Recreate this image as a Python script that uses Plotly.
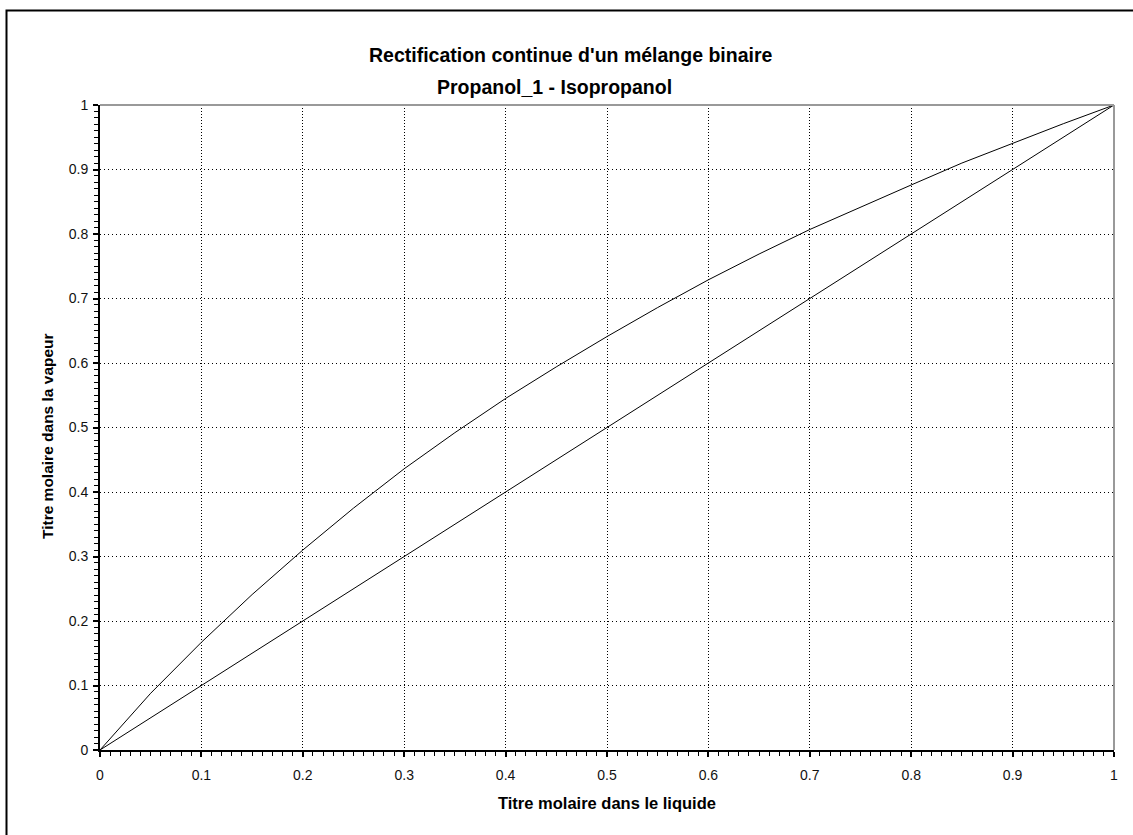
import plotly.graph_objects as go

# Equilibrium curve
x_eq = [0.0, 0.05, 0.1, 0.15, 0.2, 0.25, 0.3, 0.35, 0.4, 0.45, 0.5,
        0.55, 0.6, 0.65, 0.7, 0.75, 0.8, 0.85, 0.9, 0.95, 1.0]
y_eq = [0.0, 0.088, 0.167, 0.241, 0.310, 0.375, 0.436, 0.492, 0.545, 0.594, 0.641,
        0.686, 0.729, 0.769, 0.807, 0.842, 0.876, 0.910, 0.941, 0.971, 1.0]
# Diagonal
x_diag = [0.0, 1.0]
y_diag = [0.0, 1.0]

tick_vals = [0, 0.1, 0.2, 0.3, 0.4, 0.5, 0.6, 0.7, 0.8, 0.9, 1]
tick_text = ["0", "0.1", "0.2", "0.3", "0.4", "0.5", "0.6", "0.7", "0.8", "0.9", "1"]

title1 = "Rectification continue d'un mélange binaire"
title2 = "Propanol_1 - Isopropanol"
xlabel = "Titre molaire dans le liquide"
ylabel = "Titre molaire dans la vapeur"

FONT = "Liberation Sans, Arial, sans-serif"

fig = go.Figure()
fig.add_trace(go.Scatter(x=x_diag, y=y_diag, mode="lines",
                         line=dict(color="black", width=1), showlegend=False, hoverinfo="skip"))
fig.add_trace(go.Scatter(x=x_eq, y=y_eq, mode="lines",
                         line=dict(color="black", width=1), showlegend=False, hoverinfo="skip"))

axis_common = dict(
    range=[0, 1], tickvals=tick_vals, ticktext=tick_text,
    showgrid=True, gridcolor="black", gridwidth=1,
    zeroline=False, showline=True, linecolor="black", linewidth=2,
    ticks="outside", ticklen=5, tickwidth=2, tickcolor="black",
    minor=dict(dtick=0.01, ticks="outside", ticklen=4, tickwidth=1, tickcolor="black", showgrid=False),
    tickfont=dict(family=FONT, size=14, color="#111111"),
    fixedrange=True,
)

fig.update_xaxes(**axis_common, griddash="1px,2px", ticklabelstandoff=6)
fig.update_yaxes(**axis_common, griddash="1px,3px", ticklabelstandoff=2)

fig.update_layout(
    width=1133, height=835,
    margin=dict(l=100, r=19, t=105, b=85),
    paper_bgcolor="white", plot_bgcolor="white",
    font=dict(family=FONT, color="black"),
    shapes=[
        # top and right frame lines (gray)
        dict(type="line", xref="paper", yref="paper", x0=0, x1=1, y0=1, y1=1,
             line=dict(color="#999999", width=2)),
        dict(type="line", xref="paper", yref="paper", x0=1, x1=1, y0=0, y1=1,
             line=dict(color="#999999", width=2)),
        # outer border (extends beyond the picture on right and bottom)
        dict(type="rect", xref="paper", yref="paper",
             x0=(6.5 - 100) / 1014, x1=1.1, y0=-0.3, y1=(750 - 10.5) / 645,
             line=dict(color="black", width=2), fillcolor="rgba(0,0,0,0)"),
    ],
    annotations=[
        dict(text="<b>" + title1 + "</b>", xref="paper", yref="paper",
             x=(571 - 100) / 1014, y=(750 - 55) / 645, showarrow=False,
             xanchor="center", yanchor="middle", font=dict(family=FONT, size=19.5, color="black")),
        dict(text="<b>" + title2 + "</b>", xref="paper", yref="paper",
             x=(554 - 100) / 1014, y=(750 - 87) / 645, showarrow=False,
             xanchor="center", yanchor="middle", font=dict(family=FONT, size=19.5, color="black")),
        dict(text="<b>" + xlabel + "</b>", xref="paper", yref="paper",
             x=(607 - 100) / 1014, y=(750 - 803) / 645, showarrow=False,
             xanchor="center", yanchor="middle", font=dict(family=FONT, size=16.5, color="black")),
        dict(text="<b>" + ylabel + "</b>", xref="paper", yref="paper",
             x=(47 - 100) / 1014, y=(750 - 436) / 645, showarrow=False, textangle=-90,
             xanchor="center", yanchor="middle", font=dict(family=FONT, size=15.5, color="black")),
    ],
)

fig.write_html("out.html")
